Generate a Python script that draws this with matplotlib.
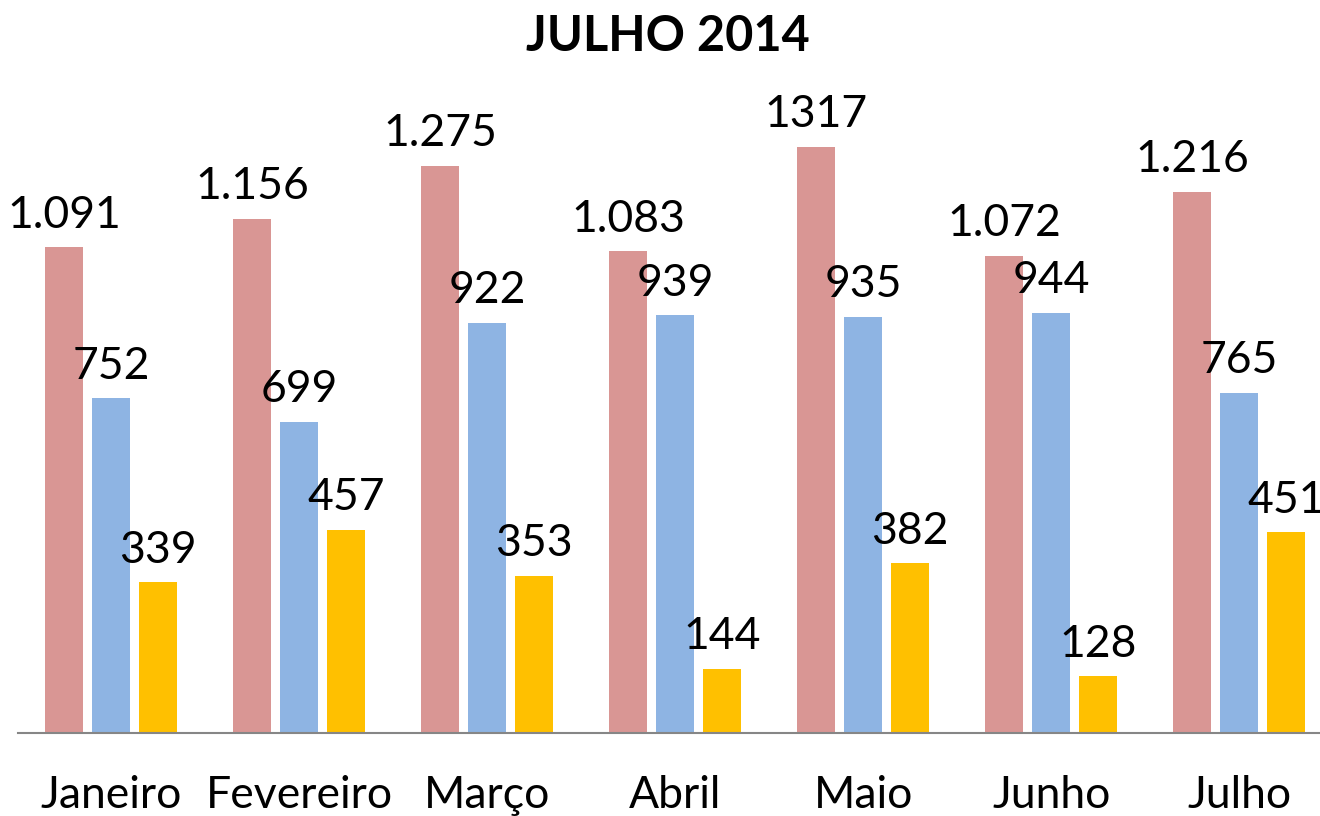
import numpy as np
import matplotlib
matplotlib.use("Agg")
import matplotlib.pyplot as plt

plt.rcParams['font.family'] = ['Lato', 'DejaVu Sans']

# chart data
months = ["Janeiro", "Fevereiro", "Março", "Abril", "Maio", "Junho", "Julho"]
serie_a = [1091, 1156, 1275, 1083, 1317, 1072, 1216]
serie_b = [752, 699, 922, 939, 935, 944, 765]
serie_c = [339, 457, 353, 144, 382, 128, 451]
labels_a = ["1.091", "1.156", "1.275", "1.083", "1317", "1.072", "1.216"]
labels_b = [str(v) for v in serie_b]
labels_c = [str(v) for v in serie_c]

colors = ["#D99694", "#8EB4E3", "#FFC000"]

fig = plt.figure(figsize=(13.2, 8.16), dpi=100)
ax = fig.add_axes([18 / 1320, 83 / 816, 1302 / 1320, 733 / 816])

x = np.arange(len(months))
width = 0.2
offsets = [-0.25, 0, 0.25]

for series, labels, color, off in zip([serie_a, serie_b, serie_c],
                                      [labels_a, labels_b, labels_c],
                                      colors, offsets):
    bars = ax.bar(x + off, series, width=width, color=color)
    for b, lab in zip(bars, labels):
        ax.annotate(lab, (b.get_x() + b.get_width() / 2, b.get_height()),
                    xytext=(0, 14), textcoords="offset points",
                    ha="center", va="baseline", fontsize=32, color="black",
                    annotation_clip=False)

ax.set_xlim(-0.495, 6.43)
ax.set_ylim(0, 1647)

for s in ["top", "right", "left"]:
    ax.spines[s].set_visible(False)
ax.spines["bottom"].set_color("#868686")
ax.spines["bottom"].set_linewidth(1.5)

ax.set_yticks([])
ax.set_xticks(x)
ax.set_xticklabels(months, fontsize=32)
ax.tick_params(axis="x", length=0, pad=30)

fig.text(0.506, 0.955, "JULHO 2014", ha="center", va="center",
         fontsize=35, fontweight="bold")

fig.savefig("out.png", dpi=100)
